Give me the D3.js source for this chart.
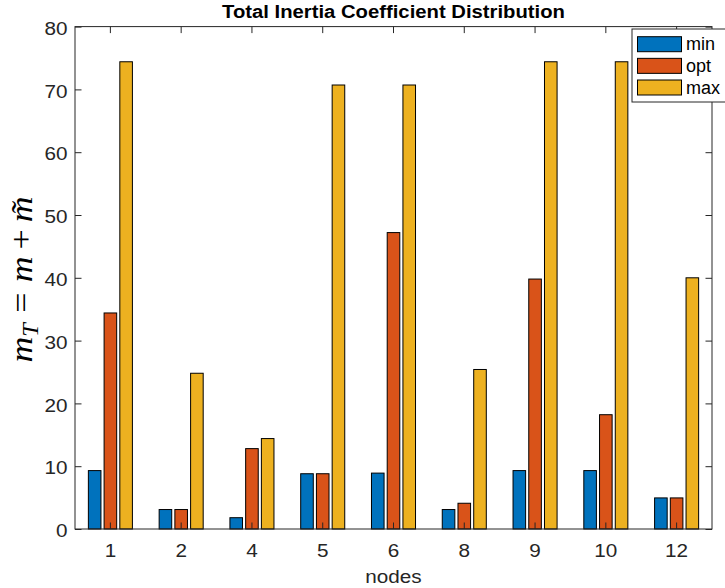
<!DOCTYPE html>
<html>
<head>
<meta charset="utf-8">
<script src="https://cdn.jsdelivr.net/npm/d3@7"></script>
<style>
  html, body { margin: 0; padding: 0; background: #fff; }
  svg { display: block; }
</style>
</head>
<body>
<div id="chart"></div>
<script>
// ---- data ----
const categories = ["1", "2", "4", "5", "6", "8", "9", "10", "12"];
const seriesNames = ["min", "opt", "max"];
const minValues = [9.3, 3.1, 1.8, 8.8, 8.9, 3.1, 9.3, 9.3, 4.95];
const optValues = [34.4, 3.1, 12.8, 8.8, 47.2, 4.1, 39.8, 18.2, 4.95];
const maxValues = [74.4, 24.8, 14.4, 70.7, 70.7, 25.4, 74.4, 74.4, 40.0];
const yTicks = [0, 10, 20, 30, 40, 50, 60, 70, 80];
const colors = ["#0072BD", "#D95319", "#EDB120"];

const seriesValues = [minValues, optValues, maxValues];

const W = 725, H = 588;
const plot = { left: 75, right: 712, top: 26.6, bottom: 529 };
const axisColor = "#262626";
const font = "Liberation Sans, Arial, Helvetica, sans-serif";
const stretch = 1.12;

const svg = d3.select("#chart").append("svg")
  .attr("width", W).attr("height", H)
  .attr("viewBox", `0 0 ${W} ${H}`);

const x = d3.scaleBand().domain(categories).range([plot.left, plot.right]).paddingInner(0).paddingOuter(0);
const y = d3.scaleLinear().domain([0, 80]).range([plot.bottom, plot.top]);

// MATLAB grouped bar geometry: group width 2/3 of category, bar = 0.8 of slot
const groupWidth = x.bandwidth() * (3 / 4.5);
const slot = groupWidth / seriesNames.length;
const xs = d3.scaleBand().domain(seriesNames).range([-groupWidth / 2, groupWidth / 2]).paddingInner(0).paddingOuter(0);
const barW = slot * 0.8;

// bars
const gBars = svg.append("g");
seriesNames.forEach((s, si) => {
  gBars.selectAll(null)
    .data(categories.map((c, i) => ({ c, v: seriesValues[si][i] })))
    .enter().append("rect")
    .attr("x", d => x(d.c) + x.bandwidth() / 2 + xs(s) + slot / 2 - barW / 2)
    .attr("y", d => y(d.v))
    .attr("width", barW)
    .attr("height", d => y(0) - y(d.v))
    .attr("fill", colors[si])
    .attr("stroke", "#000")
    .attr("stroke-width", 1);
});

// horizontal stretch helper (about the text's own x anchor)
function stretchX(sel, f) {
  sel.each(function () {
    const t = d3.select(this);
    const tx = +t.attr("x") || 0;
    t.attr("transform", `translate(${tx},0) scale(${f},1) translate(${-tx},0)`);
  });
}

// axes
const tickLen = 6.5;
const xAxisB = d3.axisBottom(x).tickSizeInner(-tickLen).tickSizeOuter(0).tickPadding(15);
const xAxisT = d3.axisTop(x).tickSizeInner(-tickLen).tickSizeOuter(0).tickFormat("");
const yAxisL = d3.axisLeft(y).tickValues(yTicks).tickSizeInner(-tickLen).tickSizeOuter(0).tickPadding(7.5);
const yAxisR = d3.axisRight(y).tickValues(yTicks).tickSizeInner(-tickLen).tickSizeOuter(0).tickFormat("");

function style(g) {
  g.select(".domain").remove();
  g.selectAll(".tick line").attr("stroke", axisColor).attr("stroke-width", 1);
  g.selectAll(".tick text").attr("fill", axisColor).attr("font-family", font).attr("font-size", 18.5);
}

svg.append("g").attr("transform", `translate(0,${plot.bottom})`).call(xAxisB).call(style)
  .selectAll(".tick text").call(stretchX, stretch);
svg.append("g").attr("transform", `translate(0,${plot.top})`).call(xAxisT).call(style);
svg.append("g").attr("transform", `translate(${plot.left},0)`).call(yAxisL).call(style)
  .selectAll(".tick text").attr("dy", "0.42em").call(stretchX, stretch);
svg.append("g").attr("transform", `translate(${plot.right},0)`).call(yAxisR).call(style);

// box
svg.append("rect")
  .attr("x", plot.left).attr("y", plot.top)
  .attr("width", plot.right - plot.left).attr("height", plot.bottom - plot.top)
  .attr("fill", "none").attr("stroke", axisColor).attr("stroke-width", 1);

// title
const title = svg.append("text")
  .attr("x", (plot.left + plot.right) / 2).attr("y", 18.3)
  .attr("text-anchor", "middle")
  .attr("font-family", font).attr("font-weight", "bold").attr("font-size", 17.5)
  .attr("fill", "#000")
  .text("Total Inertia Coefficient Distribution");
{
  const w = title.node().getComputedTextLength();
  title.call(stretchX, 343 / w);
}

// x label
svg.append("text")
  .attr("x", (plot.left + plot.right) / 2).attr("y", 583.3)
  .attr("text-anchor", "middle")
  .attr("font-family", font).attr("font-size", 18.5)
  .attr("fill", axisColor)
  .text("nodes")
  .call(stretchX, stretch);

// y label (math)
const ylg = svg.append("g");
const yl = ylg.append("text")
  .attr("text-anchor", "middle")
  .attr("font-family", "Liberation Serif, Times New Roman, serif")
  .attr("font-size", 31)
  .attr("fill", "#000");
yl.append("tspan").attr("font-style", "italic").text("m");
yl.append("tspan").attr("font-style", "italic").attr("font-size", 21).attr("dy", 6).text("T");
yl.append("tspan").attr("dy", -6).attr("dx", 9).text("=");
yl.append("tspan").attr("font-style", "italic").attr("dx", 9).text("m");
yl.append("tspan").attr("dx", 6).text("+");
yl.append("tspan").attr("font-style", "italic").attr("dx", 6).text("m\u0303");
{
  const bb = yl.node().getBBox();
  const along = 166 / bb.width;
  ylg.attr("transform", `translate(32,279.5) rotate(-90) scale(${along},1.05)`);
}

// legend
const lg = svg.append("g");
const lgBox = { x: 632, y: 29, w: 96, h: 73 };
lg.append("rect")
  .attr("x", lgBox.x).attr("y", lgBox.y).attr("width", lgBox.w).attr("height", lgBox.h)
  .attr("fill", "#fff").attr("stroke", axisColor).attr("stroke-width", 1);
seriesNames.forEach((s, i) => {
  const yy = 36.7 + i * 21.65;
  lg.append("rect")
    .attr("x", 637.5).attr("y", yy).attr("width", 44).attr("height", 15)
    .attr("fill", colors[i]).attr("stroke", "#000").attr("stroke-width", 1);
  lg.append("text")
    .attr("x", 686).attr("y", yy + 13.5)
    .attr("font-family", font).attr("font-size", 18)
    .attr("fill", "#000")
    .text(s);
});
</script>
</body>
</html>
